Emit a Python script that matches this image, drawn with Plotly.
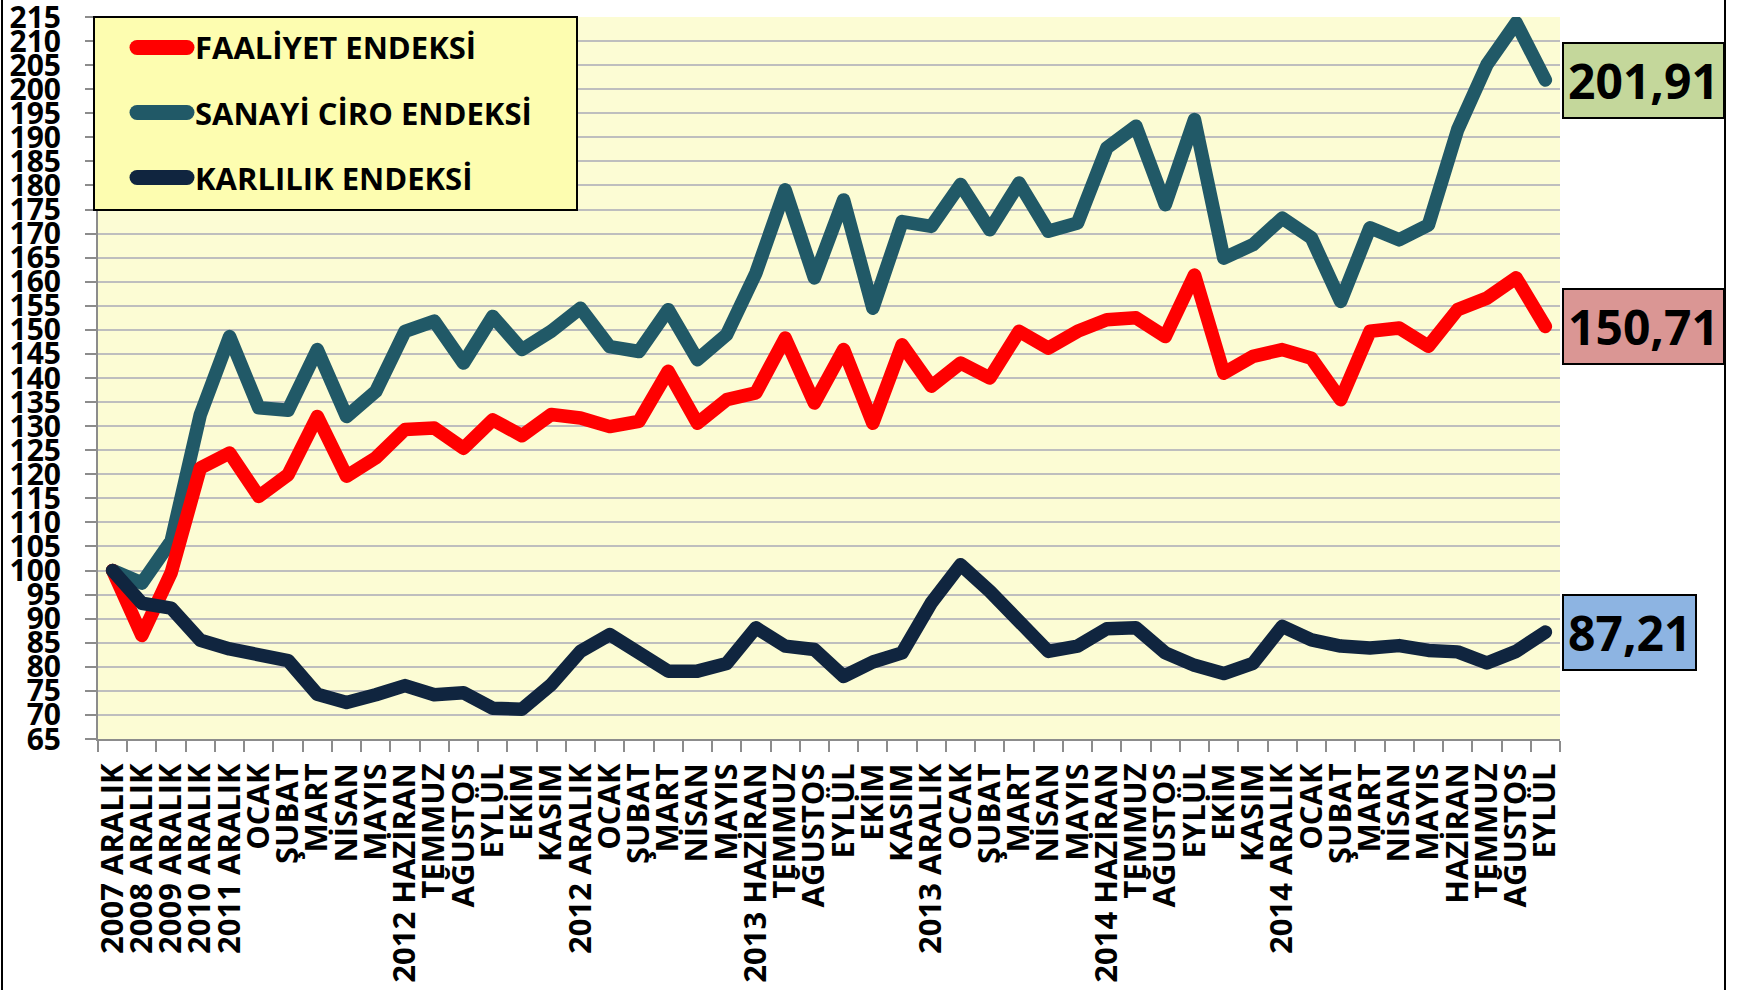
import plotly.graph_objects as go

categories = ["2007 ARALIK", "2008 ARALIK", "2009 ARALIK", "2010 ARALIK", "2011 ARALIK",
              "OCAK", "ŞUBAT", "MART", "NİSAN", "MAYIS", "2012 HAZİRAN", "TEMMUZ", "AĞUSTOS",
              "EYLÜL", "EKİM", "KASIM", "2012 ARALIK",
              "OCAK", "ŞUBAT", "MART", "NİSAN", "MAYIS", "2013 HAZİRAN", "TEMMUZ", "AĞUSTOS",
              "EYLÜL", "EKİM", "KASIM", "2013 ARALIK",
              "OCAK", "ŞUBAT", "MART", "NİSAN", "MAYIS", "2014 HAZİRAN", "TEMMUZ", "AĞUSTOS",
              "EYLÜL", "EKİM", "KASIM", "2014 ARALIK",
              "OCAK", "ŞUBAT", "MART", "NİSAN", "MAYIS", "HAZİRAN", "TEMMUZ", "AĞUSTOS", "EYLÜL"]

faaliyet = [100, 86.5, 99.5, 121.3, 124.4, 115.4, 119.9, 132.0, 119.6, 123.4, 129.3, 129.6,
            125.4, 131.3, 128.0, 132.4, 131.7, 129.9, 131.0, 141.4, 130.6, 135.5, 136.9, 148.3,
            134.8, 145.9, 130.6, 146.9, 138.3, 143.1, 140.0, 149.7, 146.2, 149.7, 152.1, 152.5,
            148.6, 161.4, 141.0, 144.5, 145.9, 144.1, 135.5, 149.7, 150.4, 146.6, 154.2, 156.6,
            160.8, 150.71]

sanayi_ciro = [100, 97.4, 106.1, 132.4, 148.6, 133.8, 133.3, 145.9, 132.0, 137.2, 149.7, 151.8,
               143.1, 152.8, 145.9, 149.7, 154.5, 146.5, 145.5, 154.2, 143.8, 149.0, 161.8, 179.1,
               160.8, 177.0, 154.5, 172.5, 171.5, 180.2, 170.8, 180.5, 170.5, 172.2, 187.8, 192.3,
               176.0, 193.7, 164.9, 167.7, 173.2, 169.1, 155.9, 171.2, 168.7, 171.8, 191.6, 205.1,
               213.8, 201.91]

karlilik = [100, 93.2, 92.2, 85.5, 83.7, 82.5, 81.3, 74.3, 72.6, 74.2, 76.1, 74.2, 74.6, 71.4,
            71.2, 76.3, 83.2, 86.7, 83.2, 79.1, 79.1, 80.7, 88.1, 84.3, 83.6, 78.0, 81.0, 82.9,
            93.3, 101.2, 95.7, 89.4, 83.2, 84.3, 87.9, 88.1, 82.9, 80.3, 78.6, 80.7, 88.4, 85.6,
            84.3, 83.9, 84.4, 83.4, 83.1, 80.8, 83.2, 87.21]

series_names = ["FAALİYET ENDEKSİ", "SANAYİ CİRO ENDEKSİ", "KARLILIK ENDEKSİ"]
series_colors = ["#FF0000", "#215967", "#10253F"]
label_colors = ["#DA9694", "#C4D79B", "#8DB4E2"]

FONT = "Open Sans"
W, H = 1737, 990
ML, MR, MT, MB = 98, 177, 17, 251
PW, PH = W - ML - MR, H - MT - MB


def px(xp):
    return (xp - ML) / PW


def py(yp):
    return (H - MB - yp) / PH


xs = list(range(len(categories)))
data = [faaliyet, sanayi_ciro, karlilik]

fig = go.Figure()
for idx in [1, 0, 2]:
    fig.add_trace(go.Scatter(x=xs, y=data[idx], mode="lines", name=series_names[idx],
                             line=dict(color=series_colors[idx], width=13.5),
                             showlegend=False, hoverinfo="skip"))

# end-value labels
for idx in range(3):
    val = data[idx][-1]
    fig.add_annotation(x=len(categories) - 0.5, y=val, xref="x", yref="y",
                       text="<b>" + f"{val:.2f}".replace(".", ",") + "</b>",
                       showarrow=False, xanchor="left", yanchor="middle", xshift=2,
                       font=dict(family=FONT, size=48, color="black"),
                       bgcolor=label_colors[idx], bordercolor="black", borderwidth=2,
                       borderpad=4)

shapes = []
# manual legend box
shapes.append(dict(type="rect", xref="paper", yref="paper", x0=px(94), x1=px(577),
                   y0=py(210), y1=py(17), fillcolor="#FDFDB0",
                   line=dict(color="black", width=2), layer="above"))
leg_y = [47.5, 112.5, 177.5]
for idx in range(3):
    shapes.append(dict(type="line", xref="paper", yref="paper", x0=px(137), x1=px(187),
                       y0=py(leg_y[idx]), y1=py(leg_y[idx]),
                       line=dict(color=series_colors[idx], width=15), layer="above"))
    fig.add_annotation(x=px(193), y=py(leg_y[idx]), xref="paper", yref="paper",
                       text="<b>" + series_names[idx] + "</b>", showarrow=False,
                       xanchor="left", yanchor="middle",
                       font=dict(family=FONT, size=31, color="black"))
# outer border
shapes.append(dict(type="line", xref="paper", yref="paper", x0=px(2), x1=px(2),
                   y0=py(990), y1=py(0), line=dict(color="black", width=2)))
shapes.append(dict(type="line", xref="paper", yref="paper", x0=px(1725), x1=px(1725),
                   y0=py(990), y1=py(0), line=dict(color="black", width=2)))

fig.update_layout(
    width=W, height=H,
    margin=dict(l=ML, r=MR, t=MT, b=MB, autoexpand=False),
    paper_bgcolor="white", plot_bgcolor="#FCFCD4",
    showlegend=False, shapes=shapes,
    font=dict(family=FONT, color="black"),
)

fig.update_xaxes(range=[-0.5, len(categories) - 0.5], tickmode="array", tickvals=xs,
                 ticktext=["<b>" + c + "</b>" for c in categories], tickangle=-90,
                 ticks="", showgrid=False, zeroline=False,
                 showline=True, linecolor="#8C8C8C", linewidth=2,
                 tickfont=dict(family=FONT, size=31, color="black"),
                 ticklabelstandoff=10, ticklabeloverflow="allow",
                 minor=dict(tickmode="array", tickvals=[i - 0.5 for i in range(len(categories) + 1)],
                            ticks="outside", ticklen=11, tickwidth=1.5, tickcolor="#8C8C8C",
                            showgrid=False))
fig.update_yaxes(range=[64.999, 215.001], tickmode="linear", tick0=65, dtick=5,
                 ticks="outside", ticklen=11, tickwidth=1.5, tickcolor="#8C8C8C",
                 showgrid=True, gridcolor="#BEBEBE", gridwidth=1.5, zeroline=False,
                 showline=True, linecolor="#8C8C8C", linewidth=2,
                 tickfont=dict(family=FONT, size=30, color="black"),
                 tickprefix="<b>", ticksuffix="</b>", ticklabelstandoff=18,
                 ticklabeloverflow="allow")

post = ("document.body.style.margin='0';document.body.style.overflow='hidden';"
        "var s=document.createElement('style');"
        "s.innerHTML='.js-line{stroke-linejoin:round!important;stroke-linecap:round!important}"
        ".shapelayer path{stroke-linecap:round}';document.head.appendChild(s);")
fig.write_html("out.html", post_script=post, config={"displayModeBar": False})
